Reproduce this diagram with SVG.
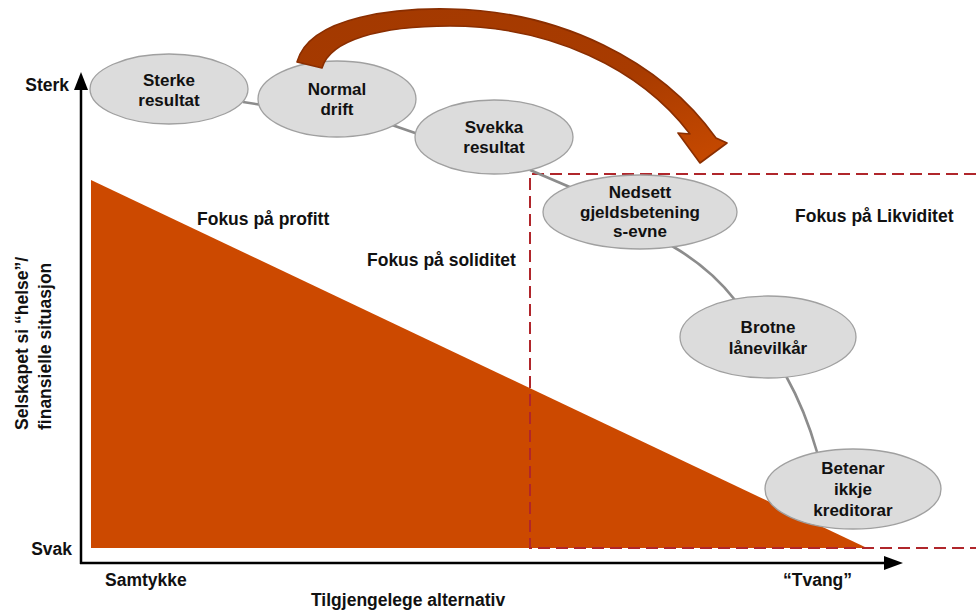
<svg xmlns="http://www.w3.org/2000/svg" width="976" height="611" viewBox="0 0 976 611">
  <defs>
    <style>
      text { font-family: "Liberation Sans", Arial, sans-serif; font-weight: bold; fill: #111; }
      .node ellipse { fill: #DCDCDC; stroke: #A0A0A0; stroke-width: 1.3; }
      .node text { font-size: 17px; text-anchor: middle; }
      .lbl { font-size: 17.5px; }
      .conn { fill: none; stroke: #8C8C8C; stroke-width: 2.6; }
      .axis { stroke: #000; stroke-width: 2.5; fill: none; }
    </style>
    <linearGradient id="arrowGrad" x1="0" y1="0" x2="1" y2="1">
      <stop offset="0" stop-color="#A33900"/>
      <stop offset="0.6" stop-color="#A83B00"/>
      <stop offset="1" stop-color="#C84A00"/>
    </linearGradient>
  </defs>
  <rect width="976" height="611" fill="#fff"/>

  <!-- orange triangle -->
  <polygon points="91,180 91,548 867,548" fill="#CC4900"/>

  <!-- dashed region -->
  <path d="M976,174 H530 V548 H976" fill="none" stroke="#B0262B" stroke-width="2" stroke-dasharray="12,6"/>

  <!-- axes -->
  <g id="axes">
    <line class="axis" x1="81" y1="88" x2="81" y2="564"/>
    <polygon points="81,72 74,90 88,90" fill="#000"/>
    <line class="axis" x1="80" y1="563" x2="886" y2="563"/>
    <polygon points="903,563 884,556 884,570" fill="#000"/>
  </g>

  <!-- connectors -->
  <g id="connectors">
    <path class="conn" d="M243,102 L262,105"/>
    <path class="conn" d="M392,125 L418,134"/>
    <path class="conn" d="M530,170 L572,188"/>
    <path class="conn" d="M672,246 Q710,268 735,300"/>
    <path class="conn" d="M786,376 Q805,410 817,452"/>
  </g>

  <!-- nodes -->
  <g id="sterke" class="node">
    <ellipse cx="169" cy="89" rx="79" ry="35"/>
    <text x="169" y="86">Sterke</text>
    <text x="169" y="106">resultat</text>
  </g>
  <g id="normal" class="node">
    <ellipse cx="337" cy="99" rx="79" ry="38"/>
    <text x="337" y="95">Normal</text>
    <text x="337" y="115">drift</text>
  </g>
  <g id="svekka" class="node">
    <ellipse cx="494" cy="137" rx="79" ry="37"/>
    <text x="494" y="133">Svekka</text>
    <text x="494" y="153">resultat</text>
  </g>
  <g id="nedsett" class="node">
    <ellipse cx="640" cy="212" rx="97" ry="37"/>
    <text x="640" y="198">Nedsett</text>
    <text x="640" y="218">gjeldsbetening</text>
    <text x="640" y="237">s-evne</text>
  </g>
  <g id="brotne" class="node">
    <ellipse cx="768" cy="337" rx="88" ry="41"/>
    <text x="768" y="333">Brotne</text>
    <text x="768" y="354">lånevilkår</text>
  </g>
  <g id="betenar" class="node">
    <ellipse cx="853" cy="489" rx="88" ry="40"/>
    <text x="853" y="474">Betenar</text>
    <text x="853" y="495">ikkje</text>
    <text x="853" y="516">kreditorar</text>
  </g>

  <!-- labels -->
  <g id="labels">
    <text class="lbl" x="69" y="91" text-anchor="end">Sterk</text>
    <text class="lbl" x="72" y="555" text-anchor="end">Svak</text>
    <text class="lbl" transform="translate(28,430) rotate(-90)" style="font-size:17.5px">Selskapet si “helse”/</text>
    <text class="lbl" transform="translate(51,430) rotate(-90)" style="font-size:17.5px">finansielle situasjon</text>
    <text class="lbl" x="105" y="586">Samtykke</text>
    <text class="lbl" x="311" y="606">Tilgjengelege alternativ</text>
    <text class="lbl" x="783" y="586">“Tvang”</text>
    <text class="lbl" x="197" y="225">Fokus på profitt</text>
    <text class="lbl" x="367" y="266">Fokus på soliditet</text>
    <text class="lbl" x="795" y="222">Fokus på Likviditet</text>
  </g>

  <!-- curved block arrow -->
  <g id="big-arrow">
    <path d="M297,62 C310,15 400,8 450,9 C560,11 660,60 716,138 L727,143 L700,163 L678,133 L690,134 C640,68 550,26 450,26 C380,26 330,40 322,68 Z"
          fill="url(#arrowGrad)" stroke="#8A2E00" stroke-width="1.6" stroke-linejoin="round"/>
  </g>
</svg>
